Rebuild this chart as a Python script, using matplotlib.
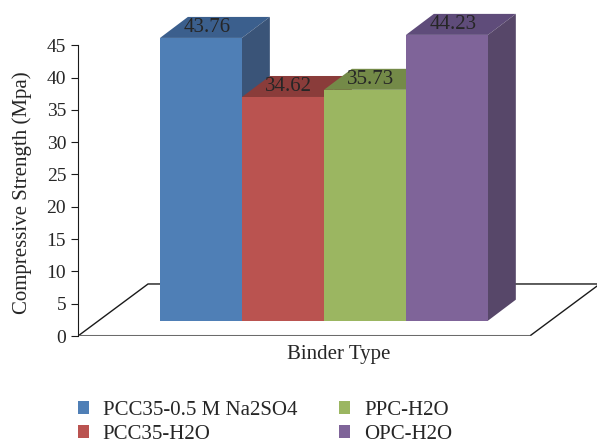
import matplotlib.pyplot as plt
from matplotlib.patches import Polygon, Patch

plt.rcParams['font.family'] = ['Liberation Serif', 'DejaVu Serif']

binders = ["PCC35-0.5 M Na2SO4", "PCC35-H2O", "PPC-H2O", "OPC-H2O"]
strength = [43.76, 34.62, 35.73, 44.23]

# front, top and side shades for each bar (Excel style 3D columns)
front_colors = ["#4F7FB6", "#BA5350", "#9BB661", "#7F6499"]
top_colors = ["#3B5F8D", "#8A3C3A", "#748A48", "#5F4C7A"]
side_colors = ["#3A5478", "#7A3533", "#66793F", "#574769"]

textColor = "#262626"

# projection of the 3D box onto the 2D axes
base = 2.37      # bottom of the front faces
dx, dy = 0.34, 3.25  # bar depth offset
floor_dx, floor_dy = 0.854, 8.05
floor_len = 5.51

fig = plt.figure(figsize=(5.97, 4.44), dpi=100)
ax = fig.add_axes([78 / 597, 108 / 444, 519 / 597, 336 / 444])
ax.set_xlim(0, 6.33)
ax.set_ylim(0, 52.0)

# floor of the plot box
floor = Polygon([(0, 0), (floor_len, 0), (floor_len + floor_dx, floor_dy), (floor_dx, floor_dy)],
				closed=True, facecolor="white", edgecolor="#1a1a1a", linewidth=1.0, zorder=1)
ax.add_patch(floor)
ax.plot([0, floor_len], [0, 0], color="#6b6b6b", linewidth=2.2, solid_capstyle="butt", zorder=2)

for i, (v, fc, tc, sc) in enumerate(zip(strength, front_colors, top_colors, side_colors)):
	x0 = 1.0 + i
	x1 = x0 + 1.0
	top = base + v
	z = 3 + i
	ax.add_patch(Polygon([(x0, top), (x1, top), (x1 + dx, top + dy), (x0 + dx, top + dy)],
						 closed=True, facecolor=tc, edgecolor="none", zorder=z))
	ax.add_patch(Polygon([(x1, base), (x1 + dx, base + dy), (x1 + dx, top + dy), (x1, top)],
						 closed=True, facecolor=sc, edgecolor="none", zorder=z))
	ax.add_patch(Polygon([(x0, base), (x1, base), (x1, top), (x0, top)],
						 closed=True, facecolor=fc, edgecolor="none", zorder=z))
	ax.text(x0 + 0.5 + 0.07, top + dy / 2, "%.2f" % v, ha="center", va="center",
			fontsize=15, color=textColor, zorder=10)

for side in ["top", "right", "bottom"]:
	ax.spines[side].set_visible(False)
ax.spines["left"].set_bounds(0, 45)
ax.spines["left"].set_color("#1a1a1a")
ax.set_yticks(range(0, 50, 5))
ax.tick_params(axis="y", direction="out", length=5, labelsize=14, labelcolor=textColor, color="#1a1a1a")
ax.set_xticks([])
ax.patch.set_alpha(0)

fig.text(22 / 597, 1 - 193 / 444, "Compressive Strength (Mpa)", rotation=90, ha="center", va="center",
		 fontsize=15, color=textColor)
fig.text(339 / 597, 1 - 354 / 444, "Binder Type", ha="center", va="center", fontsize=15, color=textColor)

handles = [Patch(facecolor=c, edgecolor="none") for c in front_colors]
fig.legend(handles, binders, ncol=2, loc="upper left", bbox_to_anchor=(59 / 597, 1 - 382 / 444),
		   frameon=False, fontsize=15, handlelength=0.55, handleheight=0.55, handletextpad=0.65,
		   columnspacing=2.0, labelspacing=0.25, labelcolor=textColor)

plt.savefig("out.png", dpi=100)
